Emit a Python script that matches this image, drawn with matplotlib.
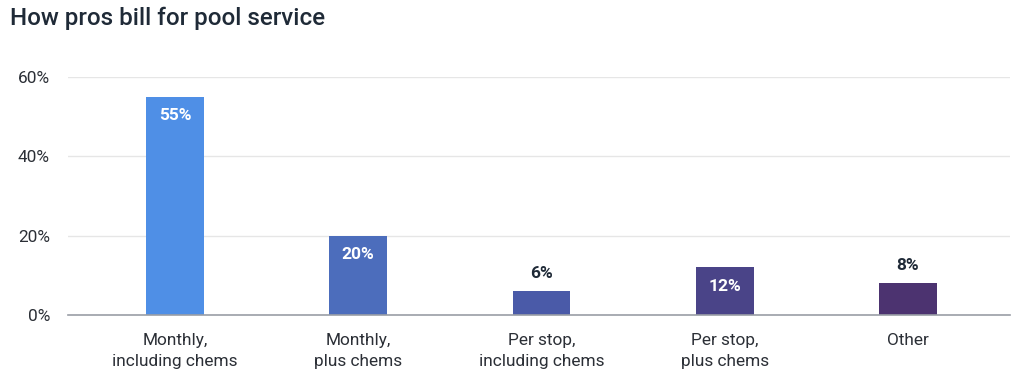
import matplotlib
matplotlib.use("Agg")
import matplotlib.pyplot as plt
from matplotlib.ticker import FuncFormatter

categories = ["Monthly,\nincluding chems", "Monthly,\nplus chems", "Per stop,\nincluding chems",
              "Per stop,\nplus chems", "Other"]
values = [55, 20, 6, 12, 8]
colors = ["#4F8FE6", "#4C6DBC", "#4A5AA8", "#4A4488", "#4C3370"]
label_inside = [True, True, False, True, False]
yticks = [0, 20, 40, 60]

plt.rcParams['font.family'] = ['Roboto', 'DejaVu Sans']

fig = plt.figure(figsize=(10.24, 3.79), dpi=100)
ax = fig.add_axes([68/1024, 1 - 315/379, (1010-68)/1024, (315-77)/379])

x = list(range(len(categories)))
ax.bar(x, values, width=0.315, color=colors, zorder=3)

for xi, v, inside in zip(x, values, label_inside):
    if inside:
        ax.annotate(f"{v}%", (xi, v), xytext=(0, -13.5), textcoords="offset points",
                    ha="center", va="center", color="white", fontsize=12.5, fontweight="bold")
    else:
        ax.annotate(f"{v}%", (xi, v), xytext=(0, 13), textcoords="offset points",
                    ha="center", va="center", color="#1f2a37", fontsize=12.5, fontweight="bold")

ax.set_xlim(-0.584, 4.557)
ax.set_ylim(0, 60)
ax.set_yticks(yticks)
ax.yaxis.set_major_formatter(FuncFormatter(lambda v, p: f"{int(v)}%"))
ax.set_xticks(x)
ax.set_xticklabels(categories)
ax.grid(axis="y", color="#e6e6e6", linewidth=1, zorder=0)
for s in ["top", "right", "left"]:
    ax.spines[s].set_visible(False)
ax.spines["bottom"].set_color("#9a9ea6")
ax.spines["bottom"].set_linewidth(1.2)
ax.spines["bottom"].set_zorder(4)
ax.tick_params(axis="x", length=0, labelsize=12.4, labelcolor="#2b2f36", pad=13)
ax.tick_params(axis="y", length=0, labelsize=12.4, labelcolor="#2b2f36", pad=13)
for lbl in ax.get_xticklabels():
    lbl.set_linespacing(1.5)

fig.text(10/1024, 1 - 18/379, "How pros bill for pool service", fontsize=17.4,
         color="#1f2a37", ha="left", va="center", fontweight="medium")

fig.savefig("out.png", dpi=100, facecolor="white")
